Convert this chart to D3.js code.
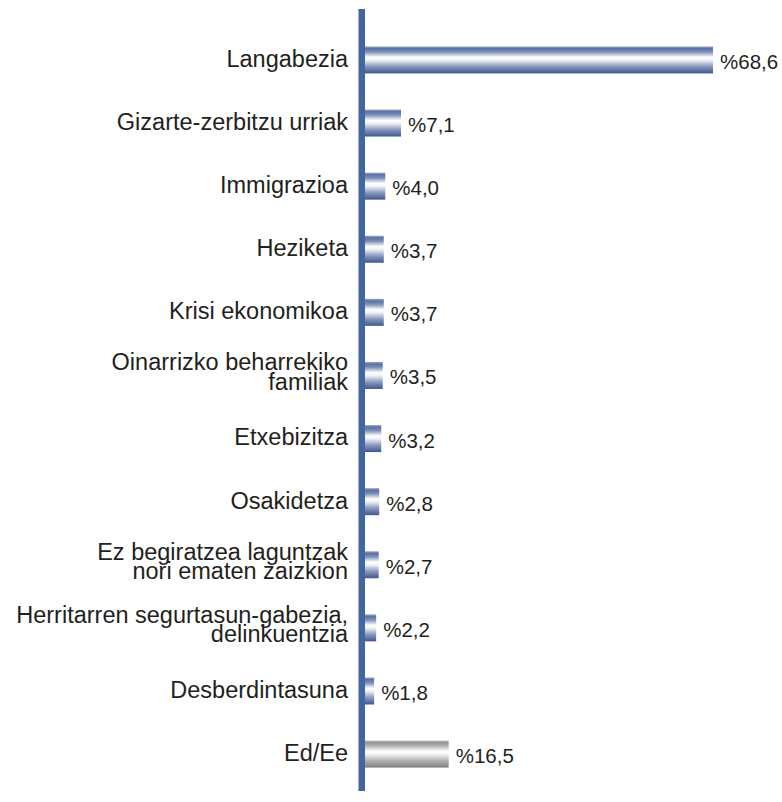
<!DOCTYPE html>
<html>
<head>
<meta charset="utf-8">
<script src="https://cdn.jsdelivr.net/npm/d3@7"></script>
<style>
  html, body { margin: 0; padding: 0; background: #ffffff; }
  svg { display: block; }
</style>
</head>
<body>
<svg id="chart" width="782" height="802"></svg>
<script>
const categories = [
  ["Langabezia"],
  ["Gizarte-zerbitzu urriak"],
  ["Immigrazioa"],
  ["Heziketa"],
  ["Krisi ekonomikoa"],
  ["Oinarrizko beharrekiko", "familiak"],
  ["Etxebizitza"],
  ["Osakidetza"],
  ["Ez begiratzea laguntzak", "nori ematen zaizkion"],
  ["Herritarren segurtasun-gabezia,", "delinkuentzia"],
  ["Desberdintasuna"],
  ["Ed/Ee"]
];
const values = [68.6, 7.1, 4.0, 3.7, 3.7, 3.5, 3.2, 2.8, 2.7, 2.2, 1.8, 16.5];
const valueLabels = ["%68,6", "%7,1", "%4,0", "%3,7", "%3,7", "%3,5", "%3,2", "%2,8", "%2,7", "%2,2", "%1,8", "%16,5"];
const greyIndex = [11];

const svg = d3.select("#chart");
const defs = svg.append("defs");

function grad(id, stops) {
  const g = defs.append("linearGradient").attr("id", id)
    .attr("x1", 0).attr("y1", 0).attr("x2", 0).attr("y2", 1);
  stops.forEach(s => g.append("stop").attr("offset", s[0]).attr("stop-color", s[1]));
}
grad("gBlue", [
  [0, "#9aa8c6"], [0.08, "#5a72a4"], [0.2, "#7b8fb8"], [0.4, "#ffffff"],
  [0.5, "#f2f4f8"], [0.75, "#8797bd"], [1, "#3f5890"]
]);
grad("gGrey", [
  [0, "#b8b8b8"], [0.08, "#959595"], [0.2, "#b5b5b5"], [0.4, "#ffffff"],
  [0.5, "#f4f4f4"], [0.75, "#b0b0b0"], [1, "#808080"]
]);

const idx = d3.range(categories.length);
const y = d3.scaleBand().domain(idx).range([16, 798]).paddingInner(0.572).paddingOuter(0.482);
const x = d3.scaleLinear().domain([0, d3.max(values)]).range([365, 713]);

// bars
svg.append("g").selectAll("rect").data(idx).join("rect")
  .attr("x", x(0))
  .attr("y", i => y(i))
  .attr("width", i => x(values[i]) - x(0))
  .attr("height", y.bandwidth())
  .attr("fill", i => greyIndex.includes(i) ? "url(#gGrey)" : "url(#gBlue)");

// axis line
svg.append("rect")
  .attr("x", 358.5).attr("y", 9)
  .attr("width", 6.5).attr("height", 782)
  .attr("fill", "#45659d");

// category labels
const fs = 23.5;
const lineH = 19.5;
const lab = svg.append("g")
  .attr("font-family", "Liberation Sans, Arial, Helvetica, sans-serif")
  .attr("font-size", fs)
  .attr("fill", "#231f20")
  .attr("text-anchor", "end");
idx.forEach(i => {
  const lines = categories[i];
  const mid = y(i) + y.bandwidth() / 2;
  const cy = lines.length > 1 ? mid - 3.6 : mid - 1.5;
  const t = lab.append("text").attr("x", 348);
  lines.forEach((ln, k) => {
    const off = (k - (lines.length - 1) / 2) * lineH;
    t.append("tspan").attr("x", 348).attr("y", cy + off + 8.4).text(ln);
  });
});

// value labels
svg.append("g")
  .attr("font-family", "Liberation Sans, Arial, Helvetica, sans-serif")
  .attr("font-size", 20.5)
  .attr("fill", "#231f20")
  .selectAll("text").data(idx).join("text")
  .attr("x", i => x(values[i]) + 7)
  .attr("y", i => y(i) + y.bandwidth() / 2 + 9)
  .text(i => valueLabels[i]);
</script>
</body>
</html>
